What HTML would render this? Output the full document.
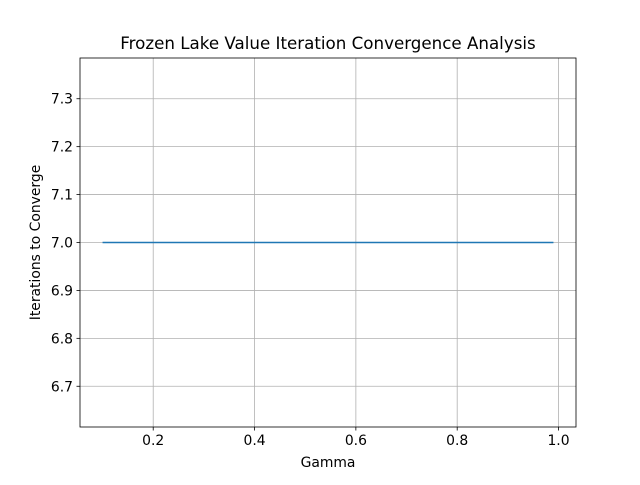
<!DOCTYPE html>
<html><head><meta charset="utf-8"><style>
body{margin:0;background:#fff}
svg text{font-family:"DejaVu Sans","Liberation Sans",sans-serif;fill:#000}
</style></head><body>
<svg id="chart" width="640" height="480" xmlns="http://www.w3.org/2000/svg"></svg>
<script>
const gammas=[0.1,0.2,0.3,0.4,0.5,0.6,0.7,0.8,0.9,0.99];
const iterations=[7,7,7,7,7,7,7,7,7,7];
const xTicks=[0.2,0.4,0.6,0.8,1.0];
const xTickLabels=["0.2","0.4","0.6","0.8","1.0"];
const yTicks=[6.7,6.8,6.9,7.0,7.1,7.2,7.3];
const yTickLabels=["6.7","6.8","6.9","7.0","7.1","7.2","7.3"];

const L=80,R=576,T=58,B=427;
const xmin=0.0555,xmax=1.0345,ymin=6.615,ymax=7.385;
const sx=v=>L+(v-xmin)/(xmax-xmin)*(R-L);
const sy=v=>B-(v-ymin)/(ymax-ymin)*(B-T);
const svg=document.getElementById('chart');
const NS='http://www.w3.org/2000/svg';
function mk(tag,attrs,parent){const e=document.createElementNS(NS,tag);for(const k in attrs)e.setAttribute(k,attrs[k]);(parent||svg).appendChild(e);return e;}

xTicks.forEach((v,i)=>{
  const x=sx(v);
  const g=mk('line',{x1:x,x2:x,y1:T,y2:B,stroke:'#b0b0b0','stroke-width':0.8});
  
  
  const t=mk('line',{x1:x,x2:x,y1:B,y2:B+3.5,stroke:'#000','stroke-width':0.8});
  
  
  const l=mk('text',{x:x,y:B+18,'font-size':13.9,'text-anchor':'middle'});
  l.textContent=xTickLabels[i];
  
  
});
yTicks.forEach((v,i)=>{
  const y=sy(v);
  const g=mk('line',{x1:L,x2:R,y1:y,y2:y,stroke:'#b0b0b0','stroke-width':0.8});
  
  
  const t=mk('line',{x1:L-3.5,x2:L,y1:y,y2:y,stroke:'#000','stroke-width':0.8});
  
  
  const l=mk('text',{x:L-7,y:y+5,'font-size':13.9,'text-anchor':'end'});
  l.textContent=yTickLabels[i];
  
  
});
const pts=gammas.map((g,i)=>sx(g)+','+sy(iterations[i])).join(' ');
const line=mk('polyline',{points:pts,fill:'none',stroke:'#1f77b4','stroke-width':1.5});


const frame=mk('rect',{x:L,y:T,width:R-L,height:B-T,fill:'none',stroke:'#000','stroke-width':0.8});


const title=mk('text',{x:(L+R)/2,y:T-9,'font-size':16.7,'text-anchor':'middle'});
title.textContent='Frozen Lake Value Iteration Convergence Analysis';


const xl=mk('text',{x:(L+R)/2,y:467,'font-size':13.9,'text-anchor':'middle'});
xl.textContent='Gamma';


const yl=mk('text',{x:0,y:0,'font-size':13.9,'text-anchor':'middle',transform:'translate(40,'+((T+B)/2)+') rotate(-90)'});
yl.textContent='Iterations to Converge';


</script>
</body></html>
